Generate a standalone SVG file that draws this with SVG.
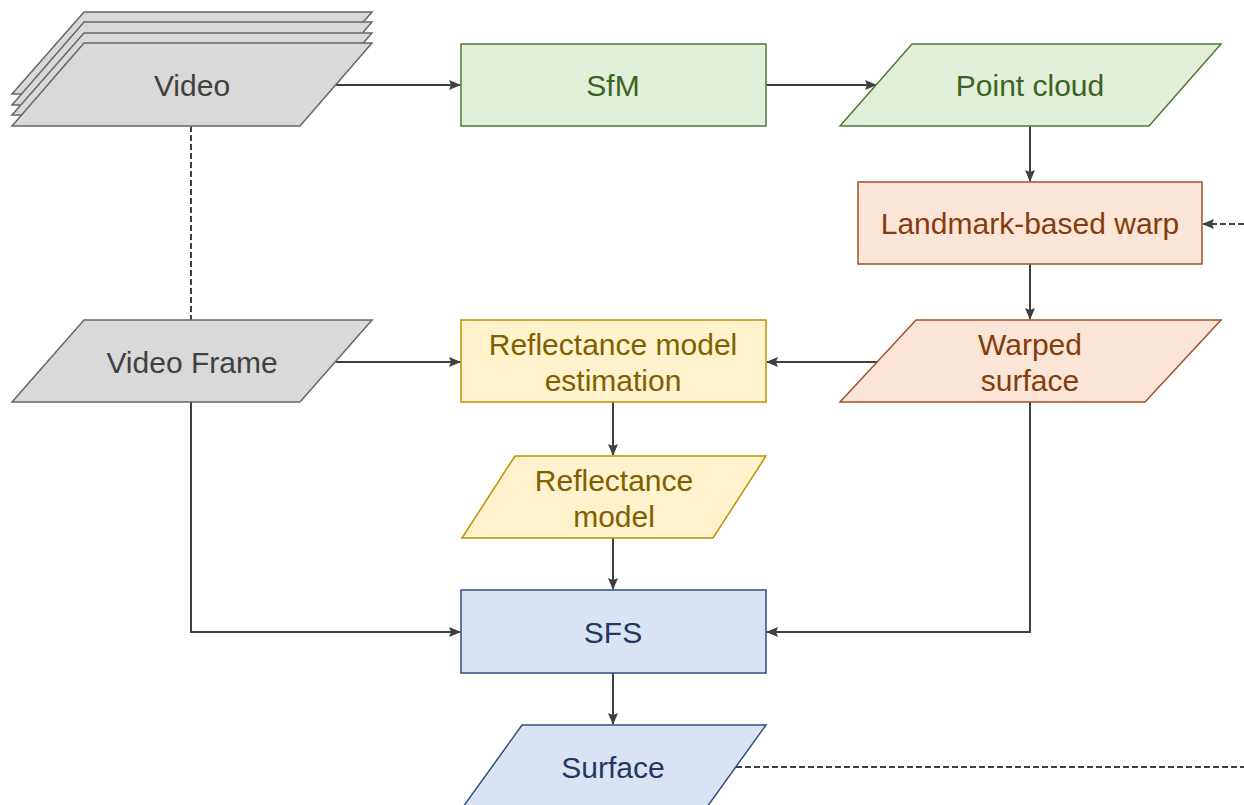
<svg xmlns="http://www.w3.org/2000/svg" width="1244" height="805" viewBox="0 0 1244 805">
  <defs>
    <marker id="arrow" viewBox="0 0 12 12" refX="11" refY="6" markerWidth="12" markerHeight="12" markerUnits="userSpaceOnUse" orient="auto">
      <path d="M0,1 L12,6 L0,11 L2,6 Z" fill="#404040"/>
    </marker>
  </defs>
  <style>
    text { font-family: "Liberation Sans", Arial, sans-serif; font-size: 30px; text-anchor: middle; }
    .gray { fill: #d9d9d9; stroke: #666666; stroke-width: 1.5; }
    .gray-t { fill: #404040; }
    .green { fill: #e2efda; stroke: #4f7a33; stroke-width: 1.5; }
    .green-t { fill: #3b6420; }
    .orange { fill: #fbe5d6; stroke: #a0522d; stroke-width: 1.5; }
    .orange-t { fill: #843c0c; }
    .yellow { fill: #fff2cc; stroke: #bf9000; stroke-width: 1.5; }
    .yellow-t { fill: #7f6000; }
    .blue { fill: #dae3f3; stroke: #2f4f80; stroke-width: 1.5; }
    .blue-t { fill: #1f3864; }
    .edge { fill: none; stroke: #404040; stroke-width: 2; }
    .dash { stroke-dasharray: 6 3; }
  </style>
  <rect width="1244" height="805" fill="#ffffff"/>

  <!-- connectors -->
  <g id="connectors">
    <line class="edge dash" x1="191" y1="126" x2="191" y2="320"/>
    <line class="edge" x1="336" y1="85" x2="460" y2="85" marker-end="url(#arrow)"/>
    <line class="edge" x1="766" y1="85" x2="876" y2="85" marker-end="url(#arrow)"/>
    <line class="edge" x1="1030" y1="126" x2="1030" y2="181" marker-end="url(#arrow)"/>
    <line class="edge dash" x1="1244" y1="224" x2="1203" y2="224" marker-end="url(#arrow)"/>
    <line class="edge" x1="1030" y1="264" x2="1030" y2="319" marker-end="url(#arrow)"/>
    <line class="edge" x1="878" y1="362" x2="767" y2="362" marker-end="url(#arrow)"/>
    <line class="edge" x1="336" y1="362" x2="460" y2="362" marker-end="url(#arrow)"/>
    <line class="edge" x1="613" y1="402" x2="613" y2="455" marker-end="url(#arrow)"/>
    <line class="edge" x1="613" y1="538" x2="613" y2="589" marker-end="url(#arrow)"/>
    <polyline class="edge" points="191,402 191,632 460,632" marker-end="url(#arrow)"/>
    <polyline class="edge" points="1030,402 1030,632 767,632" marker-end="url(#arrow)"/>
    <line class="edge" x1="613" y1="673" x2="613" y2="724" marker-end="url(#arrow)"/>
    <line class="edge dash" x1="736" y1="767" x2="1244" y2="767"/>
  </g>

  <!-- nodes -->
  <g id="video">
    <polygon class="gray" points="84,12 372,12 300,94 12,94"/>
    <polygon class="gray" points="84,22 372,22 300,105 12,105"/>
    <polygon class="gray" points="84,33 372,33 300,115 12,115"/>
    <polygon class="gray" points="84,43 372,43 300,126 12,126"/>
    <text class="gray-t" x="192" y="96">Video</text>
  </g>
  <g id="sfm">
    <rect class="green" x="461" y="44" width="305" height="82"/>
    <text class="green-t" x="613" y="96">SfM</text>
  </g>
  <g id="point-cloud">
    <polygon class="green" points="912,44 1221,44 1149,126 840,126"/>
    <text class="green-t" x="1030" y="96">Point cloud</text>
  </g>
  <g id="landmark-warp">
    <rect class="orange" x="858" y="182" width="344" height="82"/>
    <text class="orange-t" x="1030" y="234">Landmark-based warp</text>
  </g>
  <g id="video-frame">
    <polygon class="gray" points="84,320 372,320 300,402 12,402"/>
    <text class="gray-t" x="192" y="373">Video Frame</text>
  </g>
  <g id="reflectance-estimation">
    <rect class="yellow" x="461" y="320" width="305" height="82"/>
    <text class="yellow-t" x="613" y="355">Reflectance model</text>
    <text class="yellow-t" x="613" y="391">estimation</text>
  </g>
  <g id="warped-surface">
    <polygon class="orange" points="916,320 1221,320 1145,402 840,402"/>
    <text class="orange-t" x="1030" y="355">Warped</text>
    <text class="orange-t" x="1030" y="391">surface</text>
  </g>
  <g id="reflectance-model">
    <polygon class="yellow" points="515,456 766,456 713,538 462,538"/>
    <text class="yellow-t" x="614" y="491">Reflectance</text>
    <text class="yellow-t" x="614" y="527">model</text>
  </g>
  <g id="sfs">
    <rect class="blue" x="461" y="590" width="305" height="83"/>
    <text class="blue-t" x="613" y="643">SFS</text>
  </g>
  <g id="surface">
    <polygon class="blue" points="522,725 766,725 707,807 463,807"/>
    <text class="blue-t" x="613" y="778">Surface</text>
  </g>
</svg>
